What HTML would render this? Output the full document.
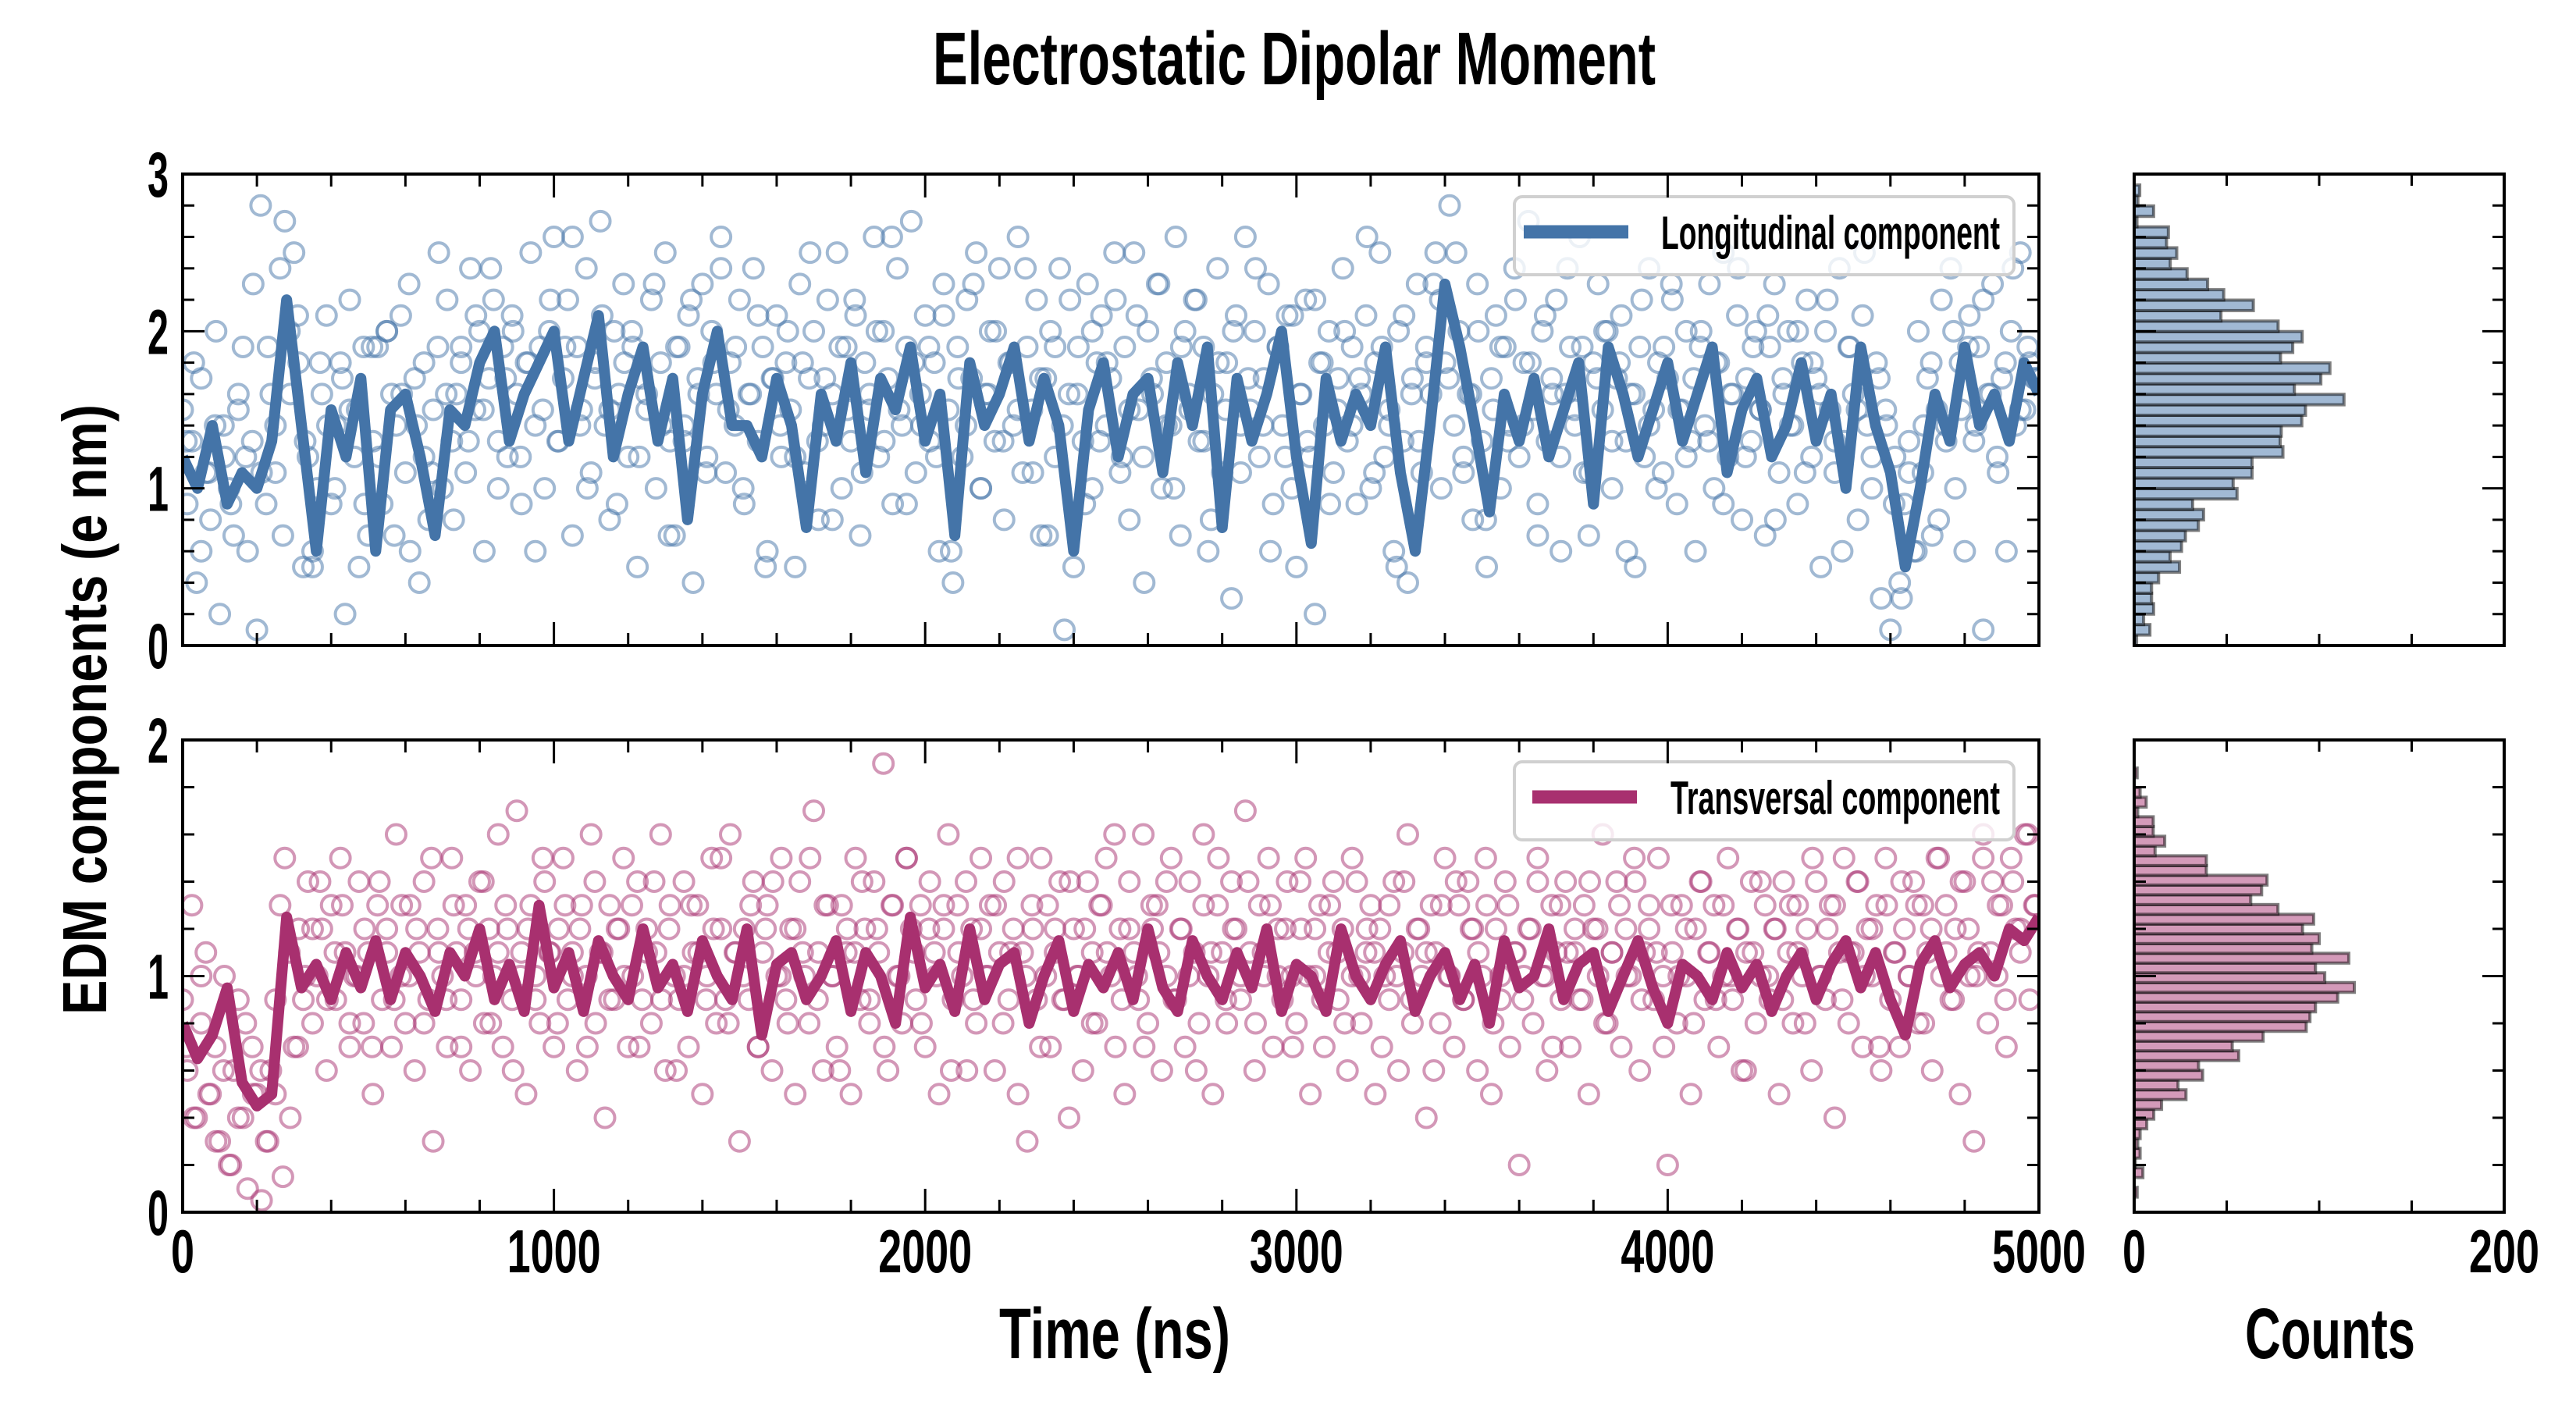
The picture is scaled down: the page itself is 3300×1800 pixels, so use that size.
<!DOCTYPE html>
<html><head><meta charset="utf-8"><style>
html,body{margin:0;padding:0;background:#fff}
svg{display:block}
text{font-family:"Liberation Sans",sans-serif;font-weight:bold;fill:#000}
</style></head><body>
<svg id="chart" width="3300" height="1800" viewBox="0 0 3300 1800" xmlns="http://www.w3.org/2000/svg">
<defs>
<clipPath id="clipTop"><rect x="234" y="223" width="2378" height="604"/></clipPath>
<clipPath id="clipBot"><rect x="234" y="948" width="2378" height="605"/></clipPath>
</defs>
<text x="1658" y="108" font-size="96" text-anchor="middle" textLength="926" lengthAdjust="spacingAndGlyphs">Electrostatic Dipolar Moment</text>
<text transform="translate(136,909) rotate(-90)" font-size="80" text-anchor="middle" textLength="782" lengthAdjust="spacingAndGlyphs">EDM components (e nm)</text>
<text x="1428" y="1740" font-size="92" text-anchor="middle" textLength="296" lengthAdjust="spacingAndGlyphs">Time (ns)</text>
<text x="2985" y="1740" font-size="92" text-anchor="middle" textLength="218" lengthAdjust="spacingAndGlyphs">Counts</text>
<g id="gTop"></g>
<g id="gBot"></g>
<g id="gHT"></g>
<g id="gHB"></g>
<g id="gAx"></g>
</svg>
<script>
const lineTimes = [];
for (let i = 0; i <= 125; i++) lineTimes.push(i * 40);
const longLine = [1.2,1.0,1.4,0.9,1.1,1.0,1.3,2.2,1.4,0.6,1.5,1.2,1.7,0.6,1.5,1.6,1.2,0.7,1.5,1.4,1.8,2.0,1.3,1.6,1.8,2.0,1.3,1.7,2.1,1.2,1.6,1.9,1.3,1.7,0.8,1.6,2.0,1.4,1.4,1.2,1.7,1.4,0.75,1.6,1.3,1.8,1.1,1.7,1.5,1.9,1.3,1.6,0.7,1.8,1.4,1.6,1.9,1.3,1.7,1.4,0.6,1.5,1.8,1.2,1.6,1.7,1.1,1.8,1.4,1.9,0.75,1.7,1.3,1.6,2.0,1.2,0.65,1.7,1.3,1.6,1.4,1.9,1.1,0.6,1.4,2.3,1.9,1.4,0.85,1.6,1.3,1.7,1.2,1.5,1.8,0.9,1.9,1.6,1.2,1.5,1.8,1.3,1.6,1.9,1.1,1.5,1.7,1.2,1.4,1.8,1.3,1.6,1.0,1.9,1.4,1.1,0.5,1.0,1.6,1.3,1.9,1.4,1.6,1.3,1.8,1.6];
const transLine = [0.8,0.65,0.75,0.95,0.55,0.45,0.5,1.25,0.95,1.05,0.9,1.1,0.95,1.15,0.9,1.1,1.0,0.85,1.1,1.0,1.2,0.9,1.05,0.85,1.3,0.95,1.1,0.85,1.15,1.0,0.9,1.2,0.95,1.05,0.85,1.15,1.0,0.9,1.2,0.75,1.05,1.1,0.9,1.0,1.15,0.85,1.1,1.0,0.8,1.25,0.95,1.05,0.85,1.2,0.9,1.05,1.1,0.8,1.0,1.15,0.85,1.05,0.95,1.1,0.9,1.2,0.95,0.85,1.15,1.0,0.9,1.1,0.95,1.2,0.85,1.05,1.0,0.85,1.2,1.0,0.9,1.05,1.15,0.85,1.0,1.1,0.9,1.05,0.8,1.15,0.95,1.0,1.2,0.9,1.05,1.1,0.85,1.0,1.15,0.95,0.8,1.05,1.0,0.9,1.1,0.95,1.05,0.85,1.0,1.1,0.9,1.05,1.15,0.95,1.1,0.9,0.75,1.05,1.15,0.95,1.05,1.1,1.0,1.2,1.15,1.25];
const longScatter = [1.5,0.9,1.3,0.4,1.7,1.1,0.8,1.4,0.2,1.2,1.0,0.7,1.5,1.9,0.6,1.3,0.1,1.1,0.9,1.6,1.4,2.4,2.7,2.0,2.5,1.8,0.5,1.2,0.6,1.0,1.6,2.1,0.9,1.4,1.8,0.2,1.5,1.2,0.5,1.9,0.7,1.3,1.9,0.9,2.0,1.6,1.4,2.1,1.1,0.6,1.7,0.4,1.2,0.8,1.5,1.9,1.0,2.2,1.3,1.6,1.8,1.1,2.4,1.5,2.0,0.6,1.7,2.2,1.3,1.9,1.2,2.1,1.6,0.9,1.8,2.5,1.4,1.9,1.0,2.0,2.6,1.3,1.7,2.2,0.7,1.9,1.5,2.4,1.1,1.8,2.7,1.4,0.8,2.0,1.6,2.3,1.2,1.9,0.5,1.7,1.5,2.2,1.0,1.8,2.5,1.3,0.7,1.9,1.4,2.1,0.4,1.7,2.3,1.2,2.0,1.6,2.6,1.1,1.8,1.4,2.2,0.9,1.6,2.4,1.3,1.9,0.6,1.7,2.1,1.2,1.8,1.5,0.5,2.3,1.1,1.7,2.0,0.8,1.4,2.2,1.6,2.5,1.0,1.9,1.3,2.1,0.7,1.8,1.5,2.6,1.2,2.0,1.7,0.9,2.4,1.4,1.9,2.7,1.1,1.6,2.1,1.3,1.8,0.6,2.3,1.5,0.4,1.9,1.2,2.2,1.7,2.5,1.0,1.6,2.0,1.3,2.4,0.8,1.8,1.4,2.6,1.1,1.9,1.5,2.2,0.7,1.7,2.0,1.2,2.4,0.1,1.6,0.5,1.9,1.3,2.3,1.0,1.8,2.1,1.4,1.7,2.2,1.1,1.9,0.8,2.5,1.5,1.2,2.0,1.6,2.3,1.0,1.8,1.4,2.6,0.7,2.0,1.5,2.2,1.3,1.9,0.6,1.6,2.4,1.1,1.8,0.3,2.1,1.4,2.6,1.5,2.0,1.2,1.7,2.3,0.9,1.9,1.4,2.1,1.0,0.5,1.6,2.2,1.2,0.2,1.8,1.4,2.0,1.1,1.7,2.4,1.3,1.9,0.9,1.6,2.1,1.0,1.8,2.5,1.2,1.5,0.6,2.0,1.3,0.4,1.7,2.3,1.1,1.9,1.6,2.5,2.2,1.8,2.8,1.4,2.0,1.1,1.6,0.8,2.3,1.3,0.5,1.7,2.1,1.0,1.9,1.4,2.4,1.2,1.8,2.7,1.5,0.9,2.0,1.3,1.7,2.2,0.6,1.6,1.9,1.4,2.6,1.1,0.7,1.8,2.3,1.5,2.0,1.0,1.7,2.1,1.3,1.6,0.5,1.9,1.2,2.4,1.5,1.8,1.1,1.7,2.2,0.9,1.5,2.0,1.3,0.6,1.9,1.4,2.3,1.0,1.8,2.5,1.2,1.6,2.1,0.8,1.7,1.3,2.0,1.5,0.7,1.9,2.3,1.1,1.6,2.0,1.4,0.9,1.8,2.2,1.2,1.7,0.5,2.0,1.5,1.1,2.4,1.3,1.9,1.6,0.8,2.1,1.4,1.0,1.8,0.3,1.5,0.1,1.2,0.4,0.9,1.3,0.6,2.0,1.1,1.7,0.7,1.5,2.2,1.4,2.4,1.0,1.8,0.6,2.1,1.3,1.9,0.1,1.6,2.3,1.2,1.7,0.6,2.0,1.4,2.5,1.5,1.8,1.7];
const longScatterB = [1.3,1.8,0.6,1.1,2.0,1.4,0.9,1.6,1.2,2.3,2.8,1.9,1.1,0.7,1.6,2.1,1.3,0.5,1.8,1.4,1.0,1.7,2.2,1.5,0.9,1.9,1.2,2.0,0.7,1.6,2.3,1.4,1.8,1.1,2.5,1.6,0.8,1.9,1.3,2.1,1.5,2.4,1.0,1.7,2.0,1.2,1.8,0.6,1.5,2.2,1.3,1.9,2.6,1.4,1.0,1.7,2.1,1.5,0.9,1.8,2.0,1.2,1.6,2.3,1.4,0.7,1.9,1.3,2.2,1.6,1.1,1.8,2.4,1.5,1.9,1.0,1.6,2.1,0.5,1.7,1.4,2.0,1.2,1.8,2.5,1.3,1.7,0.8,1.9,1.5,2.2,1.1,1.6,2.0,1.3,2.6,1.5,0.9,1.8,1.4,1.9,1.2,2.1,0.6,1.7,1.4,2.3,1.0,1.6,2.0,1.3,1.8,1.5,2.4,1.1,1.7,0.7,1.9,1.4,2.2,1.6,0.9,2.0,1.3,1.8,2.5,1.2,1.5,2.1,0.4,1.7,2.3,1.4,1.0,1.9,1.6,2.2,1.3,0.8,1.8,1.5,2.0,1.1,1.7,2.4,1.4,0.6,1.9,1.2,2.1,1.6,1.3,2.2,1.8,0.9,1.5,2.0,1.4,1.7,2.6,1.1,1.9,1.4,0.5,2.1,1.6,1.3,1.8,2.3,1.0,1.7,2.5,1.2,1.6,2.0,0.8,1.5,1.9,1.3,2.2,1.4,1.8,0.7,2.1,1.6,1.2,2.4,1.5,1.9,1.1,1.7,2.0,1.3,1.8,0.6,1.6,2.2,1.4,1.0,1.9,2.3,1.5,1.2,1.7,2.0,1.3,1.8,0.9,1.6,2.4,1.2,1.9,1.5,2.1,0.8,1.7,1.4,2.0,1.1,1.8,1.6,2.2,1.3,0.6,1.9,1.5,2.5,1.2,1.7,1.4,0.9,0.3,1.1,0.6,1.4,1.8,0.8,1.3,2.0,1.5,1.9,1.4,2.2,1.6,1.1,1.8,2.4,1.5,1.9,1.7];
const transScatter = [0.9,0.6,1.3,0.4,0.8,1.1,0.5,0.7,0.3,1.0,0.2,0.6,0.9,0.4,0.1,0.7,0.5,0.05,0.3,0.6,0.9,1.3,1.5,1.1,0.7,1.2,0.9,1.4,0.8,1.0,1.2,0.6,1.3,0.9,1.5,1.1,0.7,1.0,1.4,0.8,1.1,0.5,1.3,0.9,1.2,0.7,1.6,1.0,0.8,1.3,0.6,1.1,1.4,0.9,0.3,1.2,1.0,0.7,1.5,1.1,0.9,1.3,0.6,1.1,1.4,0.8,1.2,1.0,1.6,0.7,1.2,0.9,1.7,1.1,0.5,1.3,1.0,0.8,1.4,1.1,0.7,1.2,1.5,0.9,1.1,0.6,1.3,1.0,1.6,0.8,1.1,0.4,1.3,0.9,1.2,1.5,0.7,1.0,1.4,0.9,1.2,0.8,1.1,1.6,0.6,1.3,1.0,0.9,1.4,0.7,1.1,1.3,0.5,1.0,1.5,0.8,1.2,0.9,1.6,1.1,0.3,1.2,0.9,1.4,0.7,1.1,1.3,0.6,1.0,1.5,0.9,1.2,0.5,1.4,1.0,0.8,1.7,1.1,0.6,1.3,1.0,0.7,1.3,1.1,0.5,1.5,0.9,1.2,0.8,1.4,1.1,1.9,0.6,1.3,1.0,0.8,1.5,1.2,0.9,1.3,0.7,1.4,1.1,0.5,1.2,1.6,0.9,1.3,1.0,0.6,1.2,0.8,1.5,1.0,1.3,0.6,1.1,1.4,0.9,1.2,0.5,1.1,0.3,1.3,0.9,1.5,1.0,0.7,1.2,1.4,0.9,0.4,1.2,1.0,0.6,1.4,1.1,0.8,1.3,1.5,1.0,0.7,1.2,0.5,1.4,1.1,0.9,1.6,0.8,1.2,1.3,0.6,1.0,1.5,0.9,1.2,0.7,1.4,1.1,0.8,1.6,1.0,0.5,1.3,1.1,0.8,1.4,1.2,0.9,1.7,1.1,0.6,1.3,1.0,1.5,0.7,1.2,0.9,1.4,1.0,0.8,1.2,1.5,0.5,1.0,1.3,0.7,1.1,1.4,0.9,1.2,0.6,1.0,1.4,0.8,1.1,1.3,0.5,1.2,1.0,0.9,1.4,0.6,1.1,1.6,0.8,1.2,1.0,0.4,1.3,1.1,0.8,1.5,1.0,0.7,1.3,0.9,1.4,1.2,0.6,1.0,1.3,0.5,1.2,0.9,1.4,0.7,1.1,0.2,1.0,1.2,0.8,1.5,1.0,0.6,1.3,1.1,0.9,1.4,0.7,1.1,0.9,1.3,0.5,1.2,1.0,1.6,0.8,1.1,1.4,0.7,1.2,1.0,1.4,0.6,1.1,1.3,0.9,1.5,1.0,0.2,1.1,0.8,1.3,1.0,0.5,1.2,1.4,0.9,1.1,1.3,0.7,1.0,1.5,0.9,1.2,0.6,1.1,1.4,0.8,1.0,1.3,0.9,1.2,0.5,1.4,1.1,0.8,1.3,1.0,1.2,0.6,1.4,1.0,0.9,1.3,0.4,1.1,1.5,0.8,1.1,1.4,0.7,1.2,1.0,1.3,0.6,1.5,0.9,1.1,0.7,1.2,1.0,1.4,0.8,1.3,1.1,0.6,1.5,1.0,1.3,0.9,1.2,0.5,1.4,1.0,0.3,1.1,1.6,0.8,1.4,1.0,1.3,0.7,1.5,1.2,1.1,1.6,0.9,1.3];
const transScatterB = [0.7,0.4,1.0,0.5,0.3,0.6,0.2,0.4,0.8,0.5,0.6,0.3,0.5,0.15,0.4,0.7,1.0,1.2,1.4,0.9,1.1,1.3,0.8,1.0,1.2,0.7,1.4,1.1,0.9,1.3,1.0,1.2,0.8,1.5,1.1,0.9,1.3,0.7,1.2,1.0,1.4,0.8,1.1,1.3,0.6,1.0,1.2,0.9,1.5,1.1,0.8,1.3,1.0,1.2,0.7,1.4,1.1,0.9,1.2,1.0,1.3,0.7,1.1,1.4,0.9,1.2,0.6,1.0,1.3,1.1,0.9,1.2,1.5,0.8,1.1,1.0,1.3,0.7,1.2,1.4,1.0,0.8,1.2,1.1,1.5,0.9,1.3,1.0,0.6,1.2,1.1,1.4,0.9,1.2,0.7,1.3,1.0,1.5,1.1,0.8,1.2,1.0,1.3,0.6,1.1,1.4,0.9,1.2,1.0,1.3,0.8,1.1,1.5,1.0,1.2,0.7,1.3,1.1,0.9,1.4,1.0,1.2,0.8,1.3,1.1,1.6,0.9,1.2,1.0,0.7,1.3,1.1,1.4,0.9,1.2,1.0,0.6,1.3,1.1,1.5,0.9,1.2,1.0,1.4,0.8,1.1,1.3,1.0,1.2,0.7,1.4,1.0,1.2,0.9,1.3,1.1,0.8,1.5,1.0,1.2,1.1,0.7,1.3,1.0,1.4,0.9,1.2,1.1,0.6,1.3,1.0,1.4,0.9,1.2,1.1,1.5,0.8,1.0,1.3,1.1,0.9,1.2,1.4,1.0,0.7,1.3,1.1,1.2,0.9,1.4,1.2,0.8,1.1,1.3,1.0,1.5,0.9,1.2,1.1,0.7,1.3,1.0,1.2,0.8,1.4,1.1,0.9,1.3,1.0,1.2,0.6,1.1,1.4,1.0,1.2,0.9,1.3,1.1,0.8,1.5,1.0,1.2,1.3,0.9,1.1,1.4,1.0,1.2,0.7,1.3,1.1,1.4,1.0,1.3,0.8,1.2,1.5,1.1,0.9,1.4,1.2,1.0,1.5,1.1,1.3,0.9,1.4,1.2,1.6,1.3];
// histogram counts, bins from bottom (low value) upward
const longHistStart = 0, longHistWidth = 0.0666;
const longHist = [1.3,8.5,5.1,10.5,9.4,9.4,13.2,24.5,19.4,25.6,27.7,34.7,37.5,31.6,55.6,53.5,63.7,63.7,80.4,78.9,79.5,90.6,92.6,113.4,86.6,100.9,105.8,79.1,85.7,90.8,77.8,46.9,64.4,48.4,39.7,28.6,19.5,23,17.5,18.5,1.5,10.5,2,3];
const transHistStart = 0.064, transHistWidth = 0.0413;
const transHist = [1.6,0,4.7,0.6,3.2,1.9,3.2,6.8,10.6,14.8,28,23.7,37,34.8,56.5,53,69.7,93,95,98,110,119,103,98,116,96,100,91,97,77.7,63,68.9,71.8,39,39,11.3,16.5,10.3,10.3,1.9,6.5,3.2,0,1.6];
const xTicksMajor = [0,1000,2000,3000,4000,5000];
const topYTicks = [0,1,2,3];
const botYTicks = [0,1,2];
const histTicks = [0,50,100,150,200];

const NS = 'http://www.w3.org/2000/svg';
function mk(parent, tag, attrs) {
  const e = document.createElementNS(NS, tag);
  for (const k in attrs) e.setAttribute(k, attrs[k]);
  parent.appendChild(e);
  return e;
}
const X0 = 234, X1 = 2612;
const xs = t => X0 + t / 5000 * (X1 - X0);
const TOP = {y0: 223, y1: 827, max: 3};
const BOT = {y0: 948, y1: 1553, max: 2};
const ys = (P, v) => P.y1 - v / P.max * (P.y1 - P.y0);
const H0 = 2734, H1 = 3208;
const hs = c => H0 + c / 200 * (H1 - H0);

function panel(g, P, scatSets, line, color, clip, name) {
  const sg = mk(g, 'g', {'clip-path': 'url(#' + clip + ')'});
  
  
  scatSets.forEach((scat, si) => {
    const n = scat.length, step = 5000 / n;
    scat.forEach((v, i) => {
      const c = mk(sg, 'circle', {cx: xs(i * step + si * step / 2), cy: ys(P, v), r: 12.5, fill: 'none', stroke: color, 'stroke-width': 4, 'stroke-opacity': 0.5});
      
      
    });
  });
  const d = line.map((v, i) => (i ? 'L' : 'M') + xs(lineTimes[i]).toFixed(1) + ' ' + ys(P, v).toFixed(1)).join(' ');
  const p = mk(g, 'path', {d: d, fill: 'none', stroke: color, 'stroke-width': 14, 'stroke-linejoin': 'round', 'clip-path': 'url(#' + clip + ')'});
  
  
}
panel(document.getElementById('gTop'), TOP, [longScatter, longScatterB], longLine, '#4474a8', 'clipTop', 'longitudinal');
panel(document.getElementById('gBot'), BOT, [transScatter, transScatterB], transLine, '#a8306f', 'clipBot', 'transversal');

function hist(g, P, counts, start, w, fill, name) {
  counts.forEach((c, i) => {
    const lo = start + i * w, hi = lo + w;
    const r = mk(g, 'rect', {x: H0, y: ys(P, hi), width: Math.max(0, hs(c) - H0), height: ys(P, lo) - ys(P, hi), fill: fill, stroke: '#000', 'stroke-opacity': 0.5, 'stroke-width': 4});
    
    
  });
}
hist(document.getElementById('gHT'), TOP, longHist, longHistStart, longHistWidth, '#a1b9d4', 'longitudinal-hist');
hist(document.getElementById('gHB'), BOT, transHist, transHistStart, transHistWidth, '#d49ab9', 'transversal-hist');

function legend(g, y, color, label, lx0, tx) {
  const lg = mk(g, 'g', {});
  
  
  mk(lg, 'rect', {x: 1940, y: y, width: 640, height: 100, rx: 10, fill: '#fff', 'fill-opacity': 0.8, stroke: '#d0d0d0', 'stroke-width': 4});
  mk(lg, 'line', {x1: lx0, x2: lx0 + 134, y1: y + 45, y2: y + 45, stroke: color, 'stroke-width': 17});
  const t = mk(lg, 'text', {x: tx, y: y + 67, 'font-size': 60, textLength: 2562 - tx, lengthAdjust: 'spacingAndGlyphs'});
  t.textContent = label;
}
legend(document.getElementById('gTop'), 252, '#4474a8', 'Longitudinal component', 1952, 2128);
legend(document.getElementById('gBot'), 976, '#a8306f', 'Transversal component', 1963, 2140);

const ax = document.getElementById('gAx');
function tick(x1, y1, x2, y2) { mk(ax, 'line', {x1, y1, x2, y2, stroke: '#000', 'stroke-width': 3}); }
function label(x, y, s, anchor, size, w) {
  const t = mk(ax, 'text', {x, y, 'font-size': size, 'text-anchor': anchor, textLength: w, lengthAdjust: 'spacingAndGlyphs'});
  
  
  t.textContent = s;
}
[TOP, BOT].forEach((P, pi) => {
  mk(ax, 'rect', {x: X0, y: P.y0, width: X1 - X0, height: P.y1 - P.y0, fill: 'none', stroke: '#000', 'stroke-width': 4});
  for (let t = 0; t <= 5000; t += 200) {
    const L = t % 1000 === 0 ? 30 : 16;
    tick(xs(t), P.y1, xs(t), P.y1 - L);
    tick(xs(t), P.y0, xs(t), P.y0 + L);
  }
  const steps = Math.round(P.max / 0.2);
  for (let k = 0; k <= steps; k++) {
    const v = k * 0.2, L = k % 5 === 0 ? 28 : 15;
    tick(X0, ys(P, v), X0 + L, ys(P, v));
    tick(X1, ys(P, v), X1 - L, ys(P, v));
    tick(H0, ys(P, v), H0 + L, ys(P, v));
    tick(H1, ys(P, v), H1 - L, ys(P, v));
  }
  mk(ax, 'rect', {x: H0, y: P.y0, width: H1 - H0, height: P.y1 - P.y0, fill: 'none', stroke: '#000', 'stroke-width': 4});
  histTicks.forEach(c => { tick(hs(c), P.y1, hs(c), P.y1 - 15); tick(hs(c), P.y0, hs(c), P.y0 + 15); });
  (pi === 0 ? topYTicks : botYTicks).forEach(v => label(216, ys(P, v) + 29, String(v), 'end', 82, 27));
});
xTicksMajor.forEach(t => { const s = String(t); label(xs(t), 1630, s, 'middle', 78, s.length * 30); });
label(hs(0), 1630, '0', 'middle', 78, 30);
label(hs(200), 1630, '200', 'middle', 78, 90);
</script>
</body></html>
